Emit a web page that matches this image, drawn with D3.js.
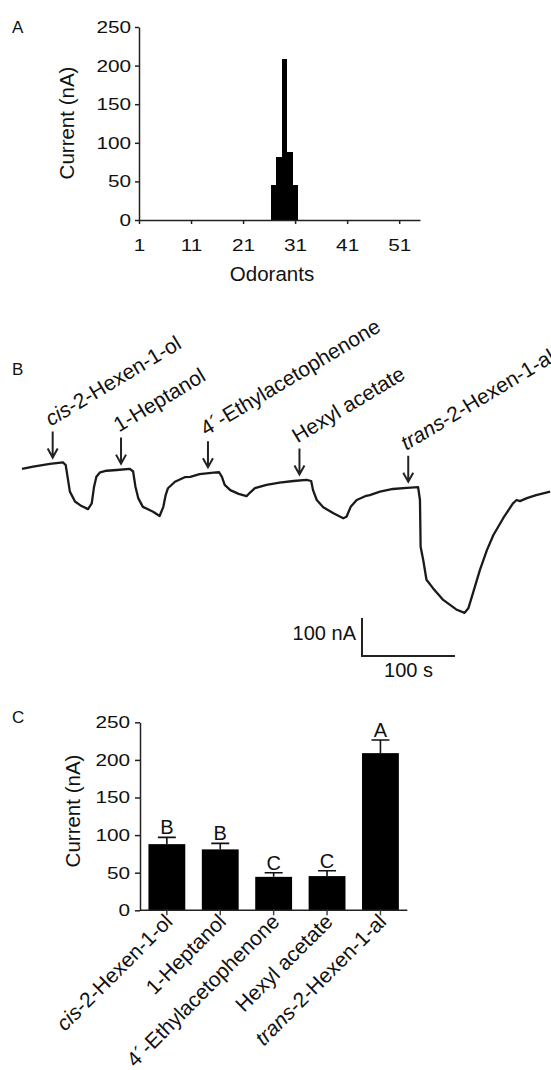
<!DOCTYPE html>
<html>
<head>
<meta charset="utf-8">
<script src="https://cdn.jsdelivr.net/npm/d3@7"></script>
<style>
  body { margin: 0; background: #fff; }
  svg text { font-family: "Liberation Sans", Arial, sans-serif; fill: #111; }
</style>
</head>
<body>
<div id="canvas"></div>
<script>
// panel A - odorant screen
var odorantIds = [27, 28, 29, 30, 31];
var odorantCurrents = [45, 82, 208, 88, 45];
var odorantTicks = [1, 11, 21, 31, 41, 51];
var currentTicks = [0, 50, 100, 150, 200, 250];

// panel B - current trace (s, nA)
var traceTime = [0, 12, 30, 44, 47, 49, 51.5, 57, 64, 71, 75, 77.5, 80, 84, 91, 102, 116, 119.5, 122, 125,
  130, 141, 148, 152, 154.5, 157, 164.5, 175, 181, 191, 206, 212, 215, 218, 224, 233, 241.5, 245, 250.5, 263,
  277, 292, 306, 311, 313, 317, 324, 335, 345.5, 349, 353.5, 360, 369, 374, 385, 399, 414, 426, 428, 428.7,
  431.5, 435, 442, 453, 467, 476, 480, 485, 492.5, 500, 507, 517.5, 528, 532, 535.5, 543, 553, 568];
var traceCurrent = [-18, -12, -5, -1, -8, -39, -78, -104, -116, -124, -109, -65, -39, -27, -23, -21, -18, -25, -65, -95,
  -118, -131, -142, -118, -87, -69, -52, -40, -39, -32, -28, -27, -39, -60, -74, -84, -90, -81, -69, -60,
  -54, -50, -47, -50, -74, -100, -119, -135, -148, -144, -118, -100, -90, -87, -78, -71, -68, -66, -100, -223,
  -258, -310, -332, -363, -388, -397, -385, -345, -284, -232, -192, -148, -109, -100, -103, -95, -87, -78];
var stimTimes = [33, 106.5, 200, 298.4, 415.4];

// panel C - mean responses
var odorNames = ["-2-Hexen-1-ol", "1-Heptanol", "4\u00b4-Ethylacetophenone", "Hexyl acetate", "-2-Hexen-1-al"];
var italicPrefix = ["cis", "", "", "", "trans"];
var meanCurrent = [88, 81, 44.5, 45.5, 209];
var semCurrent = [9, 8, 5.5, 7, 17.5];
var groupLetters = ["B", "B", "C", "C", "A"];

var W = 551, H = 1070;
var svg = d3.select('#canvas').append('svg')
    .attr('width', W).attr('height', H);
svg.append('rect').attr('width', W).attr('height', H).attr('fill', '#fff');

// the tick numbers in the figure are drawn wide, so stretch them a bit
function stretchTicks(g, k) {
    g.selectAll('.tick text').each(function () {
        var len = this.getComputedTextLength();
        d3.select(this).attr('textLength', len * k).attr('lengthAdjust', 'spacingAndGlyphs');
    });
}
function styleAxis(g) {
    g.attr('font-size', 17).attr('font-family', '"Liberation Sans", Arial, sans-serif');
    g.select('.domain').attr('stroke', '#222').attr('stroke-width', 1.5);
    g.selectAll('.tick line').attr('stroke', '#222').attr('stroke-width', 1.5);
    g.selectAll('.tick text').attr('font-size', 17).attr('fill', '#111');
}
function labelWithItalic(sel, prefix, rest) {
    if (prefix) sel.append('tspan').attr('font-style', 'italic').text(prefix);
    sel.append('tspan').text(rest);
}

// ---------- panel A ----------
var xA = d3.scaleLinear().domain([1, 55]).range([139, 420]);
var yA = d3.scaleLinear().domain([0, 250]).range([220, 27]);
var gA = svg.append('g');

gA.append('text').attr('x', 12).attr('y', 33).attr('font-size', 17).text('A');

gA.selectAll('rect.bar')
    .data(odorantIds)
    .enter()
    .append('rect')
    .attr('class', 'bar')
    .attr('x', function (d) { return Math.round(xA(d - 0.6)); })
    .attr('width', function (d) { return Math.round(xA(d + 0.5)) - Math.round(xA(d - 0.6)); })
    .attr('y', function (d, i) { return yA(odorantCurrents[i]); })
    .attr('height', function (d, i) { return yA(0) - yA(odorantCurrents[i]); })
    .attr('fill', '#000')
    .attr('shape-rendering', 'crispEdges');

var axA = gA.append('g').attr('transform', 'translate(0,' + yA(0) + ')')
    .call(d3.axisBottom(xA).tickValues(odorantTicks).tickSize(4).tickSizeOuter(0).tickPadding(15));
styleAxis(axA); stretchTicks(axA, 1.22);
var ayA = gA.append('g').attr('transform', 'translate(' + xA(1) + ',0)')
    .call(d3.axisLeft(yA).tickValues(currentTicks).tickSize(4).tickSizeOuter(0).tickPadding(4));
styleAxis(ayA); stretchTicks(ayA, 1.22);

gA.append('text').attr('x', 272).attr('y', 281).attr('text-anchor', 'middle')
    .attr('font-size', 20.5).attr('fill', '#222').text('Odorants');
gA.append('text').attr('transform', 'translate(74,123) rotate(-90)').attr('text-anchor', 'middle')
    .attr('font-size', 20.5).attr('fill', '#222').text('Current (nA)');

// ---------- panel B ----------
var xB = d3.scaleLinear().domain([0, 570]).range([22, 552]);
var yB = d3.scaleLinear().domain([-400, 100]).range([614, 424]);
var gB = svg.append('g');

gB.append('text').attr('x', 12).attr('y', 375).attr('font-size', 17).text('B');

var trace = traceTime.map(function (t, i) { return [t, traceCurrent[i]]; });
gB.append('path')
    .datum(trace)
    .attr('d', d3.line().x(function (d) { return xB(d[0]); }).y(function (d) { return yB(d[1]); }))
    .attr('fill', 'none')
    .attr('stroke', '#1a1a1a')
    .attr('stroke-width', 2.3)
    .attr('stroke-linejoin', 'round');

var bis = d3.bisector(function (d) { return d[0]; }).left;
function currentAt(t) {
    var i = bis(trace, t);
    var a = trace[i - 1], b = trace[i];
    return a[1] + (b[1] - a[1]) * (t - a[0]) / (b[0] - a[0]);
}

var arrowLen = 26;
stimTimes.forEach(function (t, i) {
    var ax = xB(t), tip = yB(currentAt(t)) - 6;
    gB.append('path')
        .attr('d', 'M' + ax + ',' + (tip - arrowLen) + 'V' + tip +
            'M' + (ax - 5) + ',' + (tip - 9) + 'L' + ax + ',' + tip + 'L' + (ax + 5) + ',' + (tip - 9))
        .attr('fill', 'none').attr('stroke', '#222').attr('stroke-width', 2);
    var lab = gB.append('text')
        .attr('transform', 'translate(' + (ax - 2) + ',' + (tip - arrowLen - 5) + ') rotate(-31)')
        .attr('font-size', 21).attr('fill', '#222');
    labelWithItalic(lab, italicPrefix[i], odorNames[i]);
});

// scale bar
var sbx = 362, sby = 656;
var sbW = xB(100) - xB(0), sbH = yB(0) - yB(100);
gB.append('path')
    .attr('d', 'M' + sbx + ',' + (sby - sbH) + 'V' + sby + 'H' + (sbx + sbW))
    .attr('fill', 'none').attr('stroke', '#222').attr('stroke-width', 2);
gB.append('text').attr('x', sbx - 6).attr('y', 640).attr('text-anchor', 'end')
    .attr('font-size', 20).attr('fill', '#222').text('100 nA');
gB.append('text').attr('x', sbx + sbW / 2).attr('y', 677).attr('text-anchor', 'middle')
    .attr('font-size', 20).attr('fill', '#222').text('100 s');

// ---------- panel C ----------
var xC = d3.scaleBand().domain(d3.range(odorNames.length)).range([140, 407.3])
    .paddingInner(0.31).paddingOuter(0.158);
var yC = d3.scaleLinear().domain([0, 250]).range([910.3, 722.3]);
var gC = svg.append('g');

gC.append('text').attr('x', 12).attr('y', 723).attr('font-size', 17).text('C');

gC.selectAll('rect.bar')
    .data(meanCurrent)
    .enter()
    .append('rect')
    .attr('class', 'bar')
    .attr('x', function (d, i) { return xC(i); })
    .attr('width', xC.bandwidth())
    .attr('y', function (d) { return yC(d); })
    .attr('height', function (d) { return yC(0) - yC(d); })
    .attr('fill', '#000');

// error bars (upper only) + letters
meanCurrent.forEach(function (m, i) {
    var cx = xC(i) + xC.bandwidth() / 2, top = yC(m + semCurrent[i]);
    gC.append('path')
        .attr('d', 'M' + cx + ',' + yC(m) + 'V' + top + 'M' + (cx - 9) + ',' + top + 'H' + (cx + 9))
        .attr('stroke', '#111').attr('stroke-width', 1.6).attr('fill', 'none');
    gC.append('text').attr('x', cx).attr('y', top - 3).attr('text-anchor', 'middle')
        .attr('font-size', 20).attr('fill', '#333').text(groupLetters[i]);
});

var axC = gC.append('g').attr('transform', 'translate(0,' + yC(0) + ')')
    .call(d3.axisBottom(xC).tickSize(5).tickSizeOuter(0).tickFormat(''));
styleAxis(axC);
axC.select('.domain').attr('d', 'M140,0H407.3');
axC.selectAll('.tick line').attr('stroke', '#444');

xC.domain().forEach(function (i) {
    var cx = xC(i) + xC.bandwidth() / 2;
    var lab = gC.append('text')
        .attr('transform', 'translate(' + (cx + 7) + ',923) rotate(-45)')
        .attr('text-anchor', 'end').attr('font-size', 21).attr('fill', '#222');
    labelWithItalic(lab, italicPrefix[i], odorNames[i]);
});

var ayC = gC.append('g').attr('transform', 'translate(140,0)')
    .call(d3.axisLeft(yC).tickValues(currentTicks).tickSize(5).tickSizeOuter(0).tickPadding(5));
styleAxis(ayC); stretchTicks(ayC, 1.22);

gC.append('text').attr('transform', 'translate(80,811) rotate(-90)').attr('text-anchor', 'middle')
    .attr('font-size', 20.5).attr('fill', '#222').text('Current (nA)');
</script>
</body>
</html>
